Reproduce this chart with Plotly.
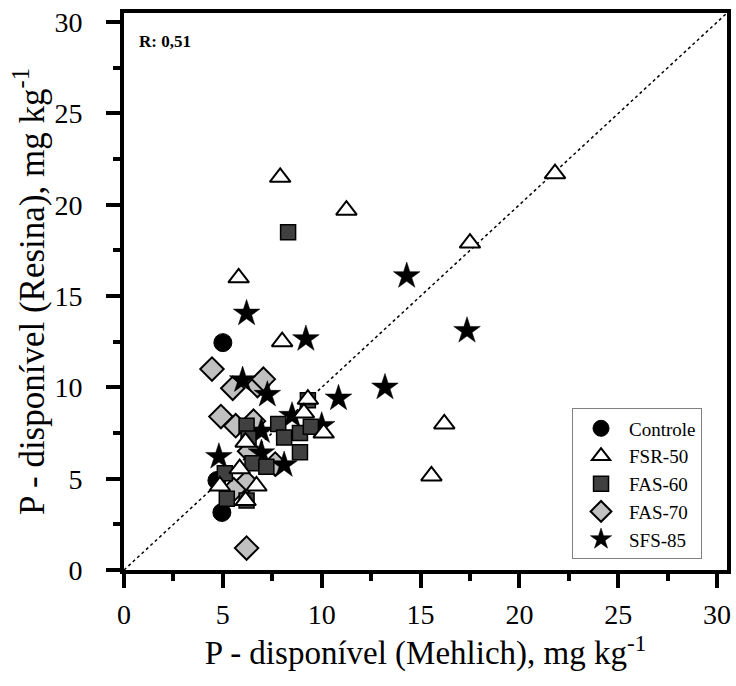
import plotly.graph_objects as go

# ---- data ----
controle_x = [5.0, 4.7, 4.95]
controle_y = [12.45, 4.9, 3.15]

fsr50_x = [21.8, 17.5, 11.25, 7.9, 5.8, 8.0, 9.3, 9.1, 10.1, 6.15, 5.85, 4.85, 6.7, 6.15, 16.2, 15.55]
fsr50_y = [21.7, 17.9, 19.7, 21.5, 16.0, 12.5, 9.35, 8.6, 7.5, 7.0, 5.55, 4.6, 4.6, 3.8, 8.0, 5.15]

fas60_x = [8.3, 9.3, 7.8, 8.1, 8.9, 9.45, 8.9, 6.2, 6.3, 6.5, 7.2, 5.1, 5.2, 6.2]
fas60_y = [18.5, 9.3, 8.0, 7.25, 7.5, 7.85, 6.45, 7.9, 7.2, 5.85, 5.65, 5.3, 3.9, 3.8]

fas70_x = [4.45, 5.5, 6.75, 7.05, 4.9, 5.65, 6.55, 6.35, 7.65, 6.2, 5.55, 6.2]
fas70_y = [11.0, 9.95, 10.1, 10.45, 8.4, 7.9, 8.15, 6.5, 5.8, 4.8, 4.4, 1.2]

sfs85_x = [14.3, 17.35, 9.2, 13.2, 10.85, 6.2, 6.0, 7.25, 8.5, 10.0, 6.95, 4.8, 6.95, 8.1]
sfs85_y = [16.1, 13.1, 12.65, 10.0, 9.4, 14.05, 10.4, 9.6, 8.45, 7.9, 7.6, 6.2, 6.4, 5.75]

one_to_one = [0, 30.5]
ticks = [0, 5, 10, 15, 20, 25, 30]
r_label = "R: 0,51"

serif = "Liberation Serif"

fig = go.Figure()

fig.add_trace(go.Scatter(x=one_to_one, y=one_to_one, mode="lines",
                         line=dict(color="black", width=1.5, dash="dot"),
                         showlegend=False, hoverinfo="skip"))

# drawing order: Controle, FAS-70, SFS-85, FAS-60, FSR-50 ; legend order via legendrank
fig.add_trace(go.Scatter(x=controle_x, y=controle_y, mode="markers", name="Controle",
                         legendrank=1,
                         marker=dict(symbol="circle", size=18, color="black",
                                     line=dict(color="black", width=1))))
fig.add_trace(go.Scatter(x=fas70_x, y=fas70_y, mode="markers", name="FAS-70",
                         legendrank=4,
                         marker=dict(symbol="diamond", size=18, color="#c0c0c0",
                                     line=dict(color="black", width=2))))
fig.add_trace(go.Scatter(x=sfs85_x, y=sfs85_y, mode="markers", name="SFS-85",
                         legendrank=5,
                         marker=dict(symbol="star", size=20, color="black",
                                     line=dict(color="black", width=0.5))))
fig.add_trace(go.Scatter(x=fas60_x, y=fas60_y, mode="markers", name="FAS-60",
                         legendrank=3,
                         marker=dict(symbol="square", size=15, color="#404040",
                                     line=dict(color="black", width=1.5))))
fig.add_trace(go.Scatter(x=fsr50_x, y=fsr50_y, mode="markers", name="FSR-50",
                         legendrank=2,
                         marker=dict(symbol="triangle-up", size=18, color="white",
                                     line=dict(color="black", width=2))))

axis_common = dict(
    range=[0, 30.5], tickvals=ticks, ticks="outside", ticklen=14, tickwidth=4,
    tickcolor="black", showline=True, linewidth=4, linecolor="black", mirror=True,
    showgrid=False, zeroline=False,
    tickfont=dict(family=serif, size=28, color="black"),
    minor=dict(dtick=2.5, tick0=0, ticks="outside", ticklen=7, tickwidth=4,
               tickcolor="black", showgrid=False),
)

fig.update_layout(
    width=736, height=686,
    margin=dict(l=124, r=5, t=13, b=116),
    paper_bgcolor="white", plot_bgcolor="white",
    xaxis=dict(**axis_common, ticklabelstandoff=2,
               title=dict(text="P - disponível (Mehlich), mg kg<sup>-1</sup>",
                          font=dict(family=serif, size=33, color="black"), standoff=12)),
    yaxis=dict(**axis_common, ticklabelstandoff=18,
               title=dict(text="P - disponível (Resina), mg kg<sup>-1</sup>",
                          font=dict(family=serif, size=35, color="black"), standoff=0)),
    legend=dict(x=0.743, y=0.29, xanchor="left", yanchor="top",
                bgcolor="white", bordercolor="#808080", borderwidth=1,
                font=dict(family=serif, size=19, color="black"),
                itemwidth=46, tracegroupgap=0),
    annotations=[dict(text="<b>" + r_label + "</b>", x=0.022, y=0.948,
                      xref="paper", yref="paper", xanchor="left", yanchor="middle",
                      showarrow=False, font=dict(family=serif, size=17, color="black"))],
)

fig.write_html("out.html")
